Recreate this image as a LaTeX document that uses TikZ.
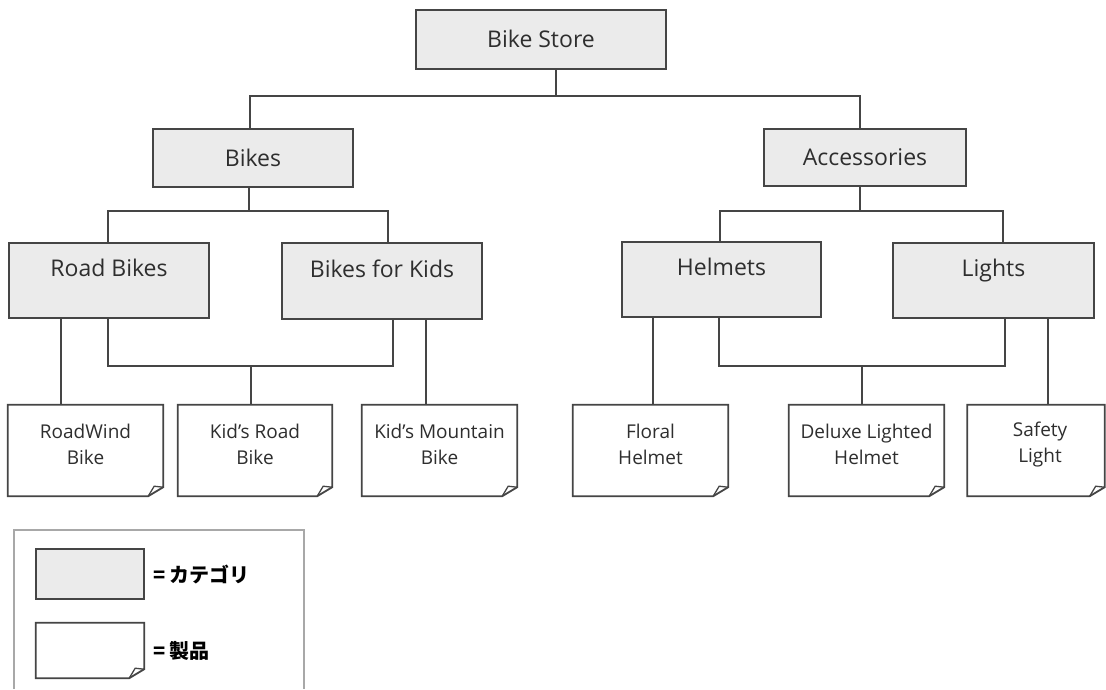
\documentclass[tikz,border=0pt]{standalone}
\usepackage{fontspec}
\setmainfont{Open Sans}
\newfontfamily\jpfont{Noto Sans CJK JP}
\usetikzlibrary{calc}
\definecolor{linec}{HTML}{454545}
\definecolor{catfill}{HTML}{EBEBEB}
\definecolor{txt}{HTML}{2E2E2E}
\definecolor{framec}{HTML}{A8A8A8}
\tikzset{
  catbox/.style={draw=linec, line width=1.8pt, fill=catfill, text=txt,
    font=\fontsize{23}{27}\selectfont, inner sep=0pt, text height=16.5pt, text depth=0pt},
  cattall/.style={catbox, text depth=24.5pt},
  prodbox/.style={draw=none, inner sep=0pt},
  prodtext/.style={text=txt, font=\fontsize{19}{26}\selectfont, align=center, inner sep=0pt},
  conn/.style={draw=linec, line width=1.8pt},
  prodline/.style={draw=linec, line width=1.8pt, line join=miter},
  legtext/.style={anchor=west, text=black, font=\jpfont\bfseries\fontsize{20}{22}\selectfont, inner sep=0pt},
}
\newcommand{\prodframe}[1]{%
  \draw[prodline] (#1.north west) -- (#1.north east) -- ([yshift=9pt]#1.south east)
     -- ([xshift=-15pt]#1.south east) -- (#1.south west) -- cycle;
  \draw[prodline, line width=1.3pt] ([xshift=-15pt]#1.south east)
     .. controls ($(#1.south east)+(-12,-5)$) .. ($(#1.south east)+(-9,-10)$)
     -- ([yshift=9pt]#1.south east);
}
\begin{document}
\begin{tikzpicture}[x=1pt,y=-1pt]
\fill[white] (0,0) rectangle (1106,689);
\useasboundingbox (0,0) rectangle (1106,689);

% category boxes
\node[catbox, minimum width=250pt, minimum height=59pt] (store) at (541,39.5) {Bike Store};
\node[catbox, minimum width=200pt, minimum height=58pt] (bikes) at (253,158) {Bikes};
\node[catbox, minimum width=202pt, minimum height=57pt] (acc) at (865,157.5) {Accessories};
\node[cattall, minimum width=200pt, minimum height=75pt] (road) at (109,280.5) {Road Bikes};
\node[cattall, minimum width=200pt, minimum height=76pt] (kids) at (382,281) {Bikes for Kids};
\node[cattall, minimum width=199pt, minimum height=75pt] (helm) at (721.5,279.5) {Helmets};
\node[cattall, minimum width=201pt, minimum height=75pt] (light) at (993.5,280.5) {Lights};

% product boxes
\node[prodbox, minimum width=155pt, minimum height=91pt] (rw) at (85.5,450.5) {};
\node[prodbox, minimum width=154pt, minimum height=91pt] (kr) at (255,450.5) {};
\node[prodbox, minimum width=155pt, minimum height=91pt] (km) at (439.5,450.5) {};
\node[prodbox, minimum width=155pt, minimum height=91pt] (fh) at (650.5,450.5) {};
\node[prodbox, minimum width=155pt, minimum height=91pt] (dl) at (866.5,450.5) {};
\node[prodbox, minimum width=137pt, minimum height=91pt] (sl) at (1036,450.5) {};
\prodframe{rw}\prodframe{kr}\prodframe{km}\prodframe{fh}\prodframe{dl}\prodframe{sl}
\node[prodtext] (rwt) at ([yshift=6pt]rw.center) {RoadWind\\Bike};
\node[prodtext] (krt) at ([yshift=6pt]kr.center) {Kid's Road\\Bike};
\node[prodtext] (kmt) at ([yshift=6pt]km.center) {Kid's Mountain\\Bike};
\node[prodtext] (fht) at ([yshift=6pt]fh.center) {Floral\\Helmet};
\node[prodtext] (dlt) at ([yshift=6pt]dl.center) {Deluxe Lighted\\Helmet};
\node[prodtext] (slt) at ([xshift=4pt,yshift=6pt]sl.center) {Safety\\Light};

% connector coordinates
\coordinate (t0) at (556,96); \coordinate (t1) at (250,96); \coordinate (t2) at (860,96);
\coordinate (b0) at (249,211); \coordinate (b1) at (108,211); \coordinate (b2) at (388,211);
\coordinate (a0) at (860,211); \coordinate (a1) at (720,211); \coordinate (a2) at (1003,211);
\coordinate (r1) at (61,366);
\coordinate (c0) at (251,366); \coordinate (c1) at (108,366); \coordinate (c2) at (393,366);
\coordinate (k1) at (426,366);
\coordinate (h1) at (653,366);
\coordinate (d0) at (862,366); \coordinate (d1) at (719,366); \coordinate (d2) at (1005,366);
\coordinate (l1) at (1048,366);

\draw[conn] (store.south -| t0) -- (t0);
\draw[conn] (bikes.north -| t1) -- (t1) -- (t2) -- (acc.north -| t2);
\draw[conn] (bikes.south -| b0) -- (b0);
\draw[conn] (road.north -| b1) -- (b1) -- (b2) -- (kids.north -| b2);
\draw[conn] (acc.south -| a0) -- (a0);
\draw[conn] (helm.north -| a1) -- (a1) -- (a2) -- (light.north -| a2);

\draw[conn] (road.south -| r1) -- (rw.north -| r1);
\draw[conn] (road.south -| c1) -- (c1) -- (c2) -- (kids.south -| c2);
\draw[conn] (c0) -- (kr.north -| c0);
\draw[conn] (kids.south -| k1) -- (km.north -| k1);

\draw[conn] (helm.south -| h1) -- (fh.north -| h1);
\draw[conn] (helm.south -| d1) -- (d1) -- (d2) -- (light.south -| d2);
\draw[conn] (d0) -- (dl.north -| d0);
\draw[conn] (light.south -| l1) -- (sl.north -| l1);

% legend
\coordinate (f1) at (14,689); \coordinate (f2) at (14,530);
\coordinate (f3) at (304,530); \coordinate (f4) at (304,689);
\draw[framec, line width=1.3pt] (f1) -- (f2) -- (f3) -- (f4);
\node[catbox, minimum width=108pt, minimum height=50pt] (legcat) at (90,574) {};
\node[prodbox, minimum width=108pt, minimum height=55pt] (legprod) at (90,650.5) {};
\prodframe{legprod}
\node[legtext] (legcattext) at (153,574) {= カテゴリ};
\node[legtext] (legprodtext) at (153,651) {= 製品};
\end{tikzpicture}
\end{document}
